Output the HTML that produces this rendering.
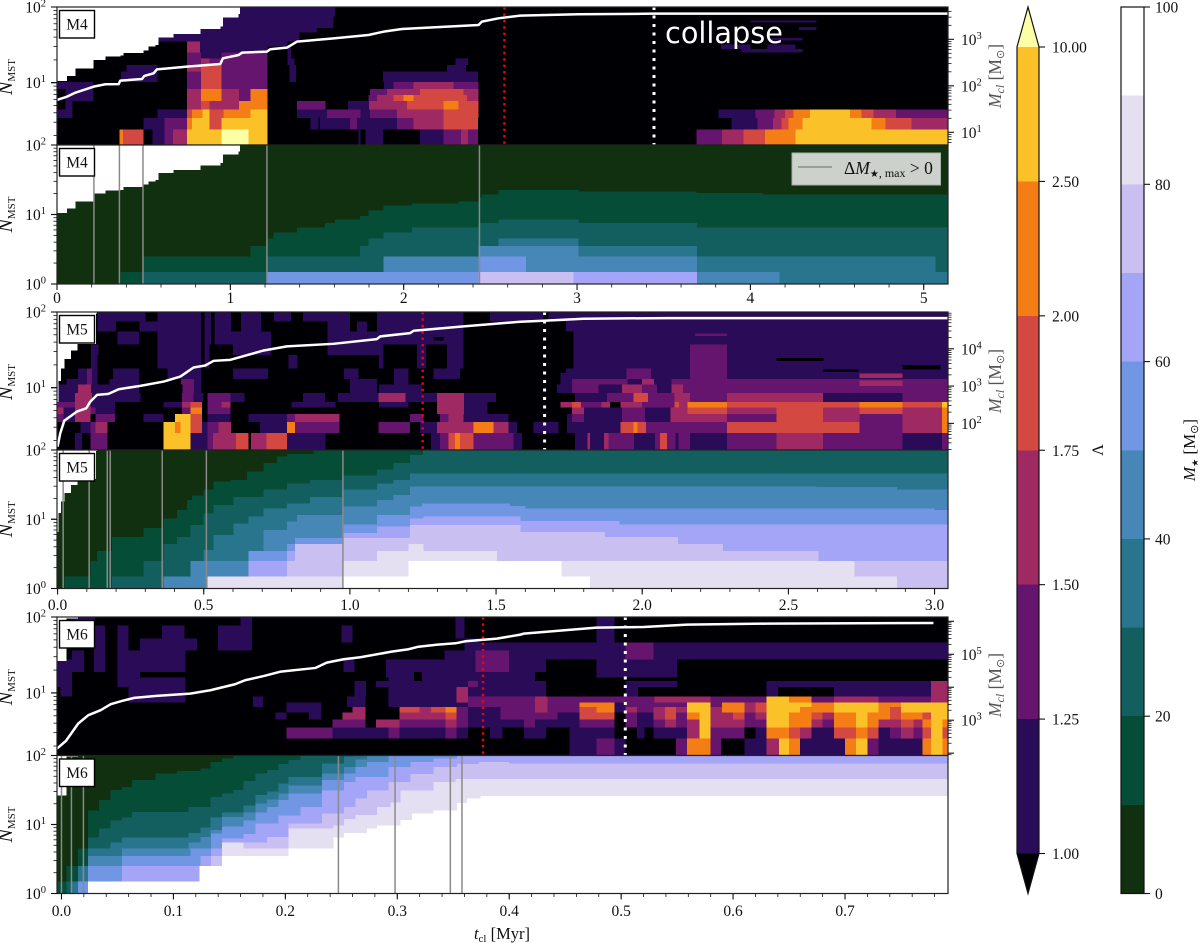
<!DOCTYPE html>
<html lang="en">
<head>
<meta charset="utf-8">
<title>Cluster evolution chart</title>
<style>
html,body{margin:0;padding:0;background:#fff;}
svg{display:block;}
text{font-family:"Liberation Serif",serif;fill:#111;}
</style>
</head>
<body>
<svg id="fig" xmlns="http://www.w3.org/2000/svg" width="1200" height="943" viewBox="0 0 1200 943"></svg>
<script>
/* ---------- shared colour levels and colourbar scales ---------- */
const lambdaColors = ['#000004','#2a0b57','#65156e','#9f2a63','#d44842','#f57d15','#fac228','#fcffa4'];
const lambdaTickLabels = ['1.00','1.25','1.50','1.75','2.00','2.50','10.00'];
const massColors = ['#10300f','#064d38','#135f5f','#2a758e','#4687b7','#7096e4','#a5a5f7','#c9bff0','#e5dff2','#ffffff'];
const massTickValues = [0,20,40,60,80,100];

/* ---------- tick values ---------- */
const xTicksM4 = [0,1,2,3,4,5];
const xTickLabelsM4 = ['0','1','2','3','4','5'];
const xTicksM5 = [0,0.5,1,1.5,2,2.5,3];
const xTickLabelsM5 = ['0.0','0.5','1.0','1.5','2.0','2.5','3.0'];
const xTicksM6 = [0,0.1,0.2,0.3,0.4,0.5,0.6,0.7];
const xTickLabelsM6 = ['0.0','0.1','0.2','0.3','0.4','0.5','0.6','0.7'];
const massAxisExpM4 = [1,2,3];
const massAxisExpM5 = [2,3,4];
const massAxisExpM6 = [3,5];

/* ---------- event times ---------- */
const redTimeM4 = 2.581, collapseTimeM4 = 3.444;
const redTimeM5 = 1.249, collapseTimeM5 = 1.666;
const redTimeM6 = 0.3766, collapseTimeM6 = 0.5037;
const starEventsM4 = [0.213,0.36,0.496,1.211,2.437];
const starEventsM5 = [0.019,0.108,0.17,0.18,0.358,0.509,0.976];
const starEventsM6 = [0,0.0089,0.0196,0.2474,0.298,0.3474,0.3578];

/* ---------- upper envelope of N_MST: [t, N] ---------- */
const envelopeM4 = [[0,10.5],[.058,12.3],[.106,15.4],[.211,19.9],[.279,22.2],[.365,22.7],[.384,24.8],[.5,26.8],[.529,29.9],[.567,31.6],[.586,39.5],[.673,44],[.827,51],[.942,55],[.957,72.6],[1.048,81],[1.057,100]];
const envelopeM5 = [[-.002,6.5],[.003,12.3],[.011,18],[.023,24],[.046,31],[.068,38],[.132,96],[.135,100]];
const envelopeM6 = [[-.004,26.5],[.0045,96],[.0146,100]];

/* ---------- cluster mass curves: [t, Mcl] ---------- */
const clusterMassM4 = [[0,49.6],[.058,58.5],[.106,71.3],[.211,96],[.279,108],[.356,109],[.365,129],[.49,140],[.504,163],[.557,186],[.577,226],[.75,258],[.942,295],[.957,390],[1.048,460],[1.067,516],[1.211,543],[1.23,610],[1.326,662],[1.384,891],[1.596,1050],[1.797,1240],[1.884,1460],[1.99,1670],[2.432,2030],[2.451,2400],[2.547,2830],[2.672,3230],[3.008,3450],[3.44,3560],[5.14,3560]];
const clusterMassM5 = [[0,23.7],[.009,54],[.023,118],[.066,207],[.098,254],[.112,384],[.135,580],[.174,617],[.209,824],[.283,1010],[.363,1320],[.42,1800],[.465,3150],[.505,3560],[.534,4760],[.591,5060],[.705,9020],[.784,11600],[.944,13600],[1.092,18200],[1.104,21500],[1.206,26400],[1.218,30500],[1.389,39800],[1.583,53200],[1.662,56600],[1.799,64000],[2.084,66700],[3.05,66700]];
const clusterMassM6 = [[-.004,138],[.004,236],[.015,793],[.024,1420],[.035,2010],[.044,3050],[.054,3850],[.065,4750],[.085,5450],[.115,6420],[.133,8100],[.155,12300],[.164,16300],[.181,22000],[.196,29800],[.227,38500],[.237,55900],[.252,70600],[.267,81100],[.295,120000],[.31,142000],[.318,167000],[.336,196000],[.352,215000],[.361,248000],[.389,298000],[.41,394000],[.413,423000],[.478,643000],[.52,673000],[.559,793000],[.63,849000],[.779,889000]];

/* ---------- Lambda rows: [Nlow, Nhigh, t, level, t, level, ..., tEnd] ---------- */
const lambdaRowsM4 = [
 [1.5,2.4,.36,5,.38,4,.50,0,.55,1,.62,2,.67,3,.75,6,.95,7,1.105,6,1.215,0,1.74,1,1.75,0,1.78,1,1.88,0,2.095,1,2.23,2,2.33,3,2.37,2,2.43,0,3.69,2,3.835,3,3.96,4,4.085,5,4.26,6,5.14],
 [2.4,3.4,.50,1,.62,2,.75,5,.78,6,.88,4,.95,6,1.215,0,1.461,1,1.509,0,1.518,1,1.691,2,1.73,1,1.96,2,2.057,3,2.23,4,2.43,0,3.89,1,4.04,2,4.13,3,4.18,4,4.22,5,4.30,6,4.70,5,4.78,4,4.93,3,5.14],
 [3.4,4.4,0,1,.09,0,.58,1,.75,4,.78,5,.84,6,.88,4,.96,5,1.115,6,1.215,0,1.384,1,1.557,2,1.75,1,1.807,2,1.96,3,2.23,4,2.431,0,3.815,1,4.03,2,4.14,3,4.20,4,4.25,5,4.345,6,4.575,5,4.64,4,4.71,3,4.84,2,5.14],
 [4.4,5.7,.05,1,.09,0,.75,3,.83,4,.88,3,1.05,5,1.215,0,1.384,2,1.55,0,1.68,1,1.80,3,2.018,4,2.23,5,2.316,4,2.431],
 [5.7,6.9,.05,1,.21,0,.75,3,.83,5,.95,3,1.05,2,1.115,5,1.215,0,1.797,2,1.845,3,1.941,4,1.999,5,2.057,4,2.365,3,2.431],
 [6.9,8.2,.05,1,.21,0,.75,3,.83,5,.95,3,1.05,2,1.115,5,1.215,0,1.807,2,1.903,3,2.095,4,2.345,3,2.431],
 [8.2,10.2,0,1,.21,0,.75,2,.83,4,.95,2,1.215,0,1.887,1,1.941,2,2.057,3,2.288,2,2.431],
 [10.2,14,.37,1,.58,0,.75,2,.83,4,.95,2,1.215,0,1.34,1,1.38,0,1.88,1,2.43],
 [14,17,.4,1,.58,0,.75,3,.83,4,.95,2,1.215,0,1.34,1,1.38,0,2.25,1,2.36],
 [17,21,.75,2,.83,3,.88,2,1.215,0,1.33,1,1.37,0,2.3,1,2.37],
 [21,25,.75,2,.83,1,.95,2,1.215,0,1.33,1,1.35],
 [25,30,.75,3,.826,1,1.215,0,1.33,1,1.35],
 [30,35,.75,3,.826,1,1.33],
 [35,46,.58,1,1.4],
 [46,53,.58,1,1.5],
 [53,75,.76,1,1.595],
 [75,100,.95,1,1.605],
 [25,28,3.95,1,4.3],
 [28,32,3.83,1,4.0,0,4.1,1,4.26],
 [36,39,4.12,1,4.3],
 [50,54,4.28,1,4.38],
 [62,66,4.0,1,4.38]
];
const lambdaRowsM5 = [
 [1.5,2.5,.06,1,.083,0,.112,2,.171,0,.363,6,.454,1,.513,2,.531,3,.611,4,.653,0,.661,3,.714,4,.784,1,.916,0,1.278,1,1.309,2,1.337,4,1.36,5,1.377,4,1.423,2,1.56,1,1.588,0,1.77,1,1.813,3,1.822,1,1.87,3,1.885,2,1.972,1,2.044,2,2.061,4,2.084,2,2.113,1,2.124,2,2.164,1,2.29,2,2.46,3,2.618,2,2.89,1,3.025,2,3.05],
 [2.5,3.5,.078,1,.112,2,.129,3,.171,0,.363,6,.402,5,.42,6,.454,4,.494,1,.513,2,.551,3,.593,0,.693,1,.784,5,.813,2,.965,0,1.098,2,1.206,0,1.24,1,1.298,3,1.423,5,1.491,3,1.543,1,1.571,0,1.628,1,1.714,0,1.742,1,1.925,4,1.97,5,1.984,4,2.013,2,2.29,4,2.743,2,2.89,3,3.025,5,3.05],
 [3.5,4.5,0,2,.02,1,.06,3,.112,0,.129,2,.196,0,.294,1,.363,0,.402,6,.454,4,.494,0,.513,1,.591,0,.653,1,.784,2,.813,3,.965,0,1.206,2,1.252,0,1.309,2,1.337,3,1.389,1,1.543,0,1.742,1,1.76,2,1.80,1,1.93,2,2.01,1,2.096,3,2.29,2,2.46,4,2.618,3,2.743,2,2.89,3,3.025,5,3.05],
 [4.5,5.5,0,3,.02,1,.06,3,.112,2,.129,1,.196,0,.425,2,.454,5,.494,0,.513,2,.591,0,1.298,3,1.39,1,1.47,0,1.76,3,1.8,1,1.93,2,2.01,1,2.096,3,2.155,4,2.29,3,2.46,4,2.618,3,2.743,4,2.89,3,3.025,5,3.05],
 [5.5,6.5,0,2,.06,3,.112,1,.196,0,.363,1,.425,3,.454,4,.494,0,.513,2,.56,3,.591,0,.8,1,.95,0,1.1,1,1.2,0,1.298,3,1.39,1,1.47,0,1.72,3,1.76,4,1.79,2,1.86,3,1.89,0,1.925,3,2.0,2,2.11,4,2.125,3,2.155,5,2.29,4,2.743,5,2.89,4,3.025,6,3.05],
 [6.5,8.5,0,1,.06,3,.118,1,.283,0,.425,2,.465,1,.50,0,.513,2,.591,1,.64,0,.84,1,.915,0,.96,1,1.098,3,1.19,1,1.298,3,1.39,1,1.5,0,1.77,1,1.88,2,1.97,4,2.02,2,2.11,3,2.164,2,2.29,3,2.618,1,2.89,2,3.05],
 [8.5,11,0,1,.07,3,.114,1,.279,0,.428,2,.467,1,.49,0,1.0,1,1.092,0,1.1,1,1.246,0,1.708,1,1.76,2,1.85,1,1.93,3,2.0,2,2.05,1,2.1,3,2.14,2,3.05],
 [11,13,.03,1,.1,2,.118,1,.137,0,.177,1,.279,0,.422,2,.467,1,.49,0,1.0,1,1.092,0,1.15,1,1.2,0,1.72,1,1.76,2,1.95,1,2.0,3,2.04,1,2.1,2,3.05],
 [13,15.6,.07,1,.1,2,.118,1,.137,0,.19,1,.279,0,.376,1,.49,0,.60,1,.72,0,.98,1,1.03,0,1.15,1,1.2,0,1.286,1,1.377,0,1.72,1,1.947,2,2.03,1,2.164,2,2.29,1,3.05],
 [15.6,18,.07,1,.1,2,.118,1,.137,0,.19,1,.279,0,.376,1,.49,0,.60,1,.72,0,.98,1,1.03,0,1.15,1,1.2,0,1.286,1,1.377,0,1.74,1,1.947,2,2.03,1,2.164,2,2.29,1,3.05],
 [18,27,.114,1,.137,0,.342,1,.52,0,.79,1,.82,0,1.1,1,1.115,0,1.23,1,1.26,0,1.332,1,1.389,0,1.765,1,2.164,2,2.29,1,3.05],
 [27,37,.114,1,.14,0,.342,1,.52,0,.6,1,.73,0,.924,1,1.115,0,1.23,1,1.26,0,1.332,1,1.389,0,1.765,1,2.164,2,2.29,1,3.05],
 [37,55,.205,1,.279,0,.342,1,.73,0,.924,1,1.389,0,1.765,1,3.05],
 [55,75,.137,1,.2,0,.28,1,.536,1,.593,0,.627,1,.696,0,.924,1,1.0,0,1.024,1,1.058,0,1.092,1,1.389,0,1.74,1,3.05],
 [75,100,.137,1,.3,0,.342,1,.593,0,.627,1,.696,0,.741,1,.798,0,.84,1,1.0,0,1.092,1,1.389,0,1.48,1,1.662,0,1.68,1,3.05],
 [18,100,.49,0,.502],
 [30,100,.525,0,.536],
 [42,47,1.286,0,1.32],
 [19,30,1.263,0,1.332],
 [48,52,2.18,2,2.29],
 [22.5,24.5,2.46,0,2.62],
 [16,17.5,2.62,0,2.74],
 [17.5,20,2.89,0,3.02],
 [13.5,15.5,2.743,3,2.89],
 [10.5,12.5,2.743,3,2.89]
];
const lambdaRowsM6 = [
 [1.5,2.5,.454,1,.478,2,.494,1,.504,0,.549,2,.559,5,.58,2,.589,0,.61,1,.63,3,.641,6,.65,5,.66,1,.7,5,.71,6,.72,2,.73,1,.769,5,.777,6,.787,5,.792],
 [2.5,3.5,.201,2,.242,1,.292,2,.302,1,.343,2,.353,1,.363,0,.383,1,.394,0,.413,1,.433,0,.454,1,.494,0,.514,1,.521,0,.529,1,.559,3,.57,6,.58,2,.61,0,.62,1,.63,5,.65,4,.66,3,.67,1,.69,4,.71,5,.72,4,.73,1,.74,2,.75,3,.761,2,.769,4,.777,6,.787,4,.792],
 [3.5,4.5,.242,2,.2715,0,.281,3,.302,2,.343,3,.353,2,.363,1,.413,2,.423,1,.463,2,.494,0,.504,2,.514,1,.529,2,.539,3,.549,2,.559,3,.57,6,.58,3,.61,2,.63,6,.65,5,.67,3,.68,2,.69,5,.71,6,.72,5,.73,3,.75,4,.761,3,.769,5,.777,6,.787,5,.792],
 [4.5,5.5,.191,1,.201,0,.221,1,.232,0,.251,3,.2715,0,.302,3,.343,4,.353,2,.363,1,.392,2,.443,1,.463,4,.494,0,.504,2,.514,1,.529,3,.539,4,.549,2,.559,5,.57,6,.58,3,.6,4,.61,2,.62,3,.63,6,.65,5,.67,4,.68,3,.69,5,.71,6,.72,5,.74,4,.75,5,.769,4,.777,6,.792],
 [5.5,6.5,.201,1,.232,0,.26,3,.2715,0,.302,4,.32,3,.33,4,.343,5,.353,2,.363,1,.392,2,.423,3,.434,2,.463,4,.478,5,.494,1,.504,3,.514,2,.529,3,.539,4,.549,3,.559,6,.58,3,.59,5,.61,3,.62,4,.63,6,.66,5,.69,6,.73,5,.74,4,.75,6,.792],
 [6.5,7.5,.171,1,.18,0,.201,1,.232,0,.255,1,.2715,0,.292,1,.363,2,.423,3,.434,2,.463,5,.494,1,.504,2,.559,6,.58,2,.59,5,.61,3,.62,4,.63,6,.67,5,.69,6,.73,5,.75,6,.792],
 [7.5,9,.06,1,.111,0,.171,1,.18,0,.255,1,.2715,0,.292,1,.353,3,.363,2,.423,3,.434,2,.53,3,.58,2,.63,6,.65,5,.67,2,.69,3,.73,2,.777,3,.792],
 [9,12,-.001,1,.0095,0,.06,1,.111,0,.262,1,.272,0,.292,1,.353,3,.363,1,.433,0,.504,1,.515,0,.63,1,.64,0,.69,1,.777,3,.792],
 [12,14.3,-.004,1,.0095,0,.05,1,.111,0,.262,1,.272,0,.281,1,.363,2,.372,1,.433,0,.504,1,.55,0,.63,1,.777,3,.792],
 [14.3,16,-.004,1,.0095,0,.05,1,.111,0,.292,1,.315,0,.322,1,.423],
 [16,19,-.004,1,.0095,0,.05,1,.07,0,.29,1,.315,0,.322,1,.423,0,.478,1,.55],
 [19,27.6,-.004,1,.02,0,.029,1,.039,0,.05,1,.111,0,.252,1,.262,0,.29,1,.37,2,.4,1,.433,0,.478,1,.55],
 [27.6,36,.0095,1,.02,0,.029,1,.039,0,.05,1,.111,0,.342,1,.37,2,.4,1,.504,2,.529,1,.792],
 [36,46,.029,1,.039,0,.05,1,.06,0,.07,1,.121,0,.14,1,.17,0,.36,1,.504,2,.529,1,.792],
 [46,52,.029,1,.039,0,.05,1,.06,0,.07,1,.121,0,.14,1,.17,0,.25,1,.26,0,.36,1,.372,0,.478,1,.494],
 [52,77,.029,1,.039,0,.05,1,.06,0,.09,1,.11,0,.14,1,.17,0,.25,1,.26,0,.352,1,.36,0,.478,1,.494],
 [77,100,.008,1,.03,0,.16,1,.17,0,.352,1,.36,0,.478,1,.494]
];

/* ---------- stellar-mass boundaries: [t, N], index = mass bin ---------- */
const m4Mass10 = [[.365,1.5],[.5,2.5],[1.115,3.5],[1.211,4.5],[1.25,5.5],[1.384,6.5],[1.547,7.5],[1.605,8.5],[1.749,9.5],[1.797,11.5],[1.884,13.5],[2.047,14.5],[2.316,15.5],[2.432,17.5],[2.451,19.5],[2.547,22.5],[3.01,21.5],[3.69,20.5],[4.07,19.5]];
const m4Mass20 = [[.5,1.5],[1.211,2.5],[1.749,3.5],[1.797,4.5],[1.884,5.5],[2.047,6.5],[2.432,7.5],[2.547,8.5],[3.008,7.5],[3.691,6.5]];
const m4Mass30 = [[1.211,1.5],[1.884,2.5],[2.432,3.5],[2.547,4.5],[3.008,3.5],[3.691,2.5],[5.069,1.5]];
const m4Mass40 = [[1.211,1.5],[1.884,2.5],[2.432,3.5],[3.008,2.5],[3.691,1.5],[4.167,1]];
const m4Mass50 = [[1.211,1.5],[2.432,2.5],[2.706,1.5],[3.691,1]];
const m4Mass60 = [[2.432,1.5],[3.691,1]];
const m4Mass70 = [[2.432,1.5],[2.979,1]];

const m5Mass10 = [[.023,1.5],[.112,2.5],[.135,3.5],[.186,5.5],[.294,7.5],[.363,10.3],[.408,13.7],[.442,19],[.46,22],[.499,26.7],[.534,35],[.591,37],[.648,49],[.705,65],[.75,80],[.784,87],[.876,100]];
const m5Mass20 = [[.186,1.5],[.294,2.5],[.363,4.4],[.408,5.5],[.454,8.3],[.499,12.2],[.534,16],[.602,21],[.705,27],[.784,33],[.864,37],[.978,43],[1.092,52],[1.149,65],[1.206,85],[1.25,100]];
const m5Mass30 = [[.363,1.5],[.454,2.5],[.499,3.6],[.534,5.9],[.602,8.7],[.653,10.9],[.705,14.4],[.784,17],[.864,21],[.978,26.7],[1.092,33],[1.149,37],[1.206,46]];
const m5Mass40 = [[.363,1.5],[.454,2.5],[.653,3.5],[.705,7],[.784,9.3],[.819,11.5],[.978,15.2],[1.092,19],[1.149,22.5],[1.206,29.7],[2.597,29],[2.871,27]];
const m5Mass50 = [[.513,1.5],[.653,3.5],[.784,4.4],[.813,5.4],[.978,8.4],[1.092,11.5],[1.206,15.2],[1.246,17],[1.548,15.5],[1.6,14.4],[3.0,13.6]];
const m5Mass60 = [[.513,1.5],[.653,2.5],[.784,3.5],[.813,4.4],[.978,6.3],[1.092,7.8],[1.206,10.3],[1.252,11],[1.583,9.5],[1.922,8.4]];
const m5Mass70 = [[.513,1.5],[.784,2.5],[.813,4.4],[.978,5.4],[1.206,8.3],[1.583,6.5],[1.873,5.5],[2.122,4.4],[2.276,3.5],[2.603,2.5]];
const m5Mass80 = [[.513,1.5],[.978,2.5],[1.092,3.5],[1.2,4.4],[1.252,3.5],[1.503,2.5],[2.726,1.5],[2.871,1]];
const m5Mass90 = [[.978,1.5],[1.2,2.5],[1.723,1.5],[1.822,1]];

const m6Mass10 = [[-.004,1.5],[.0045,2.5],[.0146,4.5],[.0235,16],[.0333,22.5],[.0438,31.5],[.0542,35],[.0631,44],[.084,55],[.1033,60],[.1241,65],[.1331,81],[.1435,90],[.1539,100]];
const m6Mass20 = [[.0045,1.5],[.0146,2.5],[.0235,6.5],[.0333,8.8],[.0438,11.5],[.0542,12.6],[.0631,15.3],[.1137,18],[.1331,25],[.1435,28],[.1539,31.5],[.1628,43],[.1733,55],[.1837,62],[.1941,75],[.203,86],[.2135,100]];
const m6Mass30 = [[.0095,1.5],[.0146,2.5],[.0235,4.5],[.0438,5.5],[.0542,6.5],[.1137,7.5],[.1241,9],[.1331,12.6],[.1435,15],[.1628,19],[.1733,26.7],[.1837,30],[.1941,39],[.203,49],[.2328,76],[.2522,96],[.2611,100]];
const m6Mass40 = [[.0146,1.5],[.0235,3.5],[.0542,4.5],[.1137,5.5],[.1241,6.6],[.1331,8.3],[.1435,12.9],[.1628,15],[.1733,20],[.1837,23],[.1941,28],[.203,37],[.2328,55],[.2522,68],[.2626,88],[.273,100]];
const m6Mass50 = [[.0146,1.5],[.0235,2.5],[.0542,3.5],[.1152,4.5],[.1337,7.4],[.1435,9.3],[.1628,11.5],[.1733,15],[.1837,18],[.1941,22.5],[.203,28],[.2328,44],[.2522,55],[.2626,68],[.273,81],[.2923,100]];
const m6Mass60 = [[.0235,1.5],[.0542,2.5],[.1241,3.5],[.1337,4.5],[.1435,6.3],[.1628,7.3],[.1733,10.3],[.1941,13.6],[.2135,18],[.2328,31],[.2522,41],[.2626,49],[.2923,68],[.3117,81],[.3325,90],[.3534,100]];
const m6Mass70 = [[.0235,1.5],[.1235,2.5],[.1337,3.5],[.1435,4.5],[.1628,5.5],[.1837,6.6],[.203,10.3],[.2328,14.4],[.2522,18],[.2626,24],[.273,31],[.2923,41],[.3117,54],[.3325,68],[.3534,75],[.3727,80],[.4,76]];
const m6Mass80 = [[.0235,1.5],[.1235,2.5],[.1435,5.5],[.1628,4.5],[.203,8.7],[.2432,9.7],[.2522,12],[.2626,13.7],[.2819,18],[.2938,21],[.3028,31],[.3325,41],[.3519,46]];
const m6Mass90 = [[.0235,1.5],[.1235,2.5],[.1435,3.5],[.203,4.5],[.2432,6.5],[.2522,7.5],[.273,8.7],[.2819,9.7],[.3028,11.6],[.3132,14.5],[.3325,16],[.3534,20.6],[.3623,23.8],[.3742,26]];

/* ---------- drawing ---------- */
const svg = document.getElementById('fig');
const NS = 'http://www.w3.org/2000/svg';
const LEFT = 57, RIGHT = 948;
let clipId = 0;

function mk(tag, attrs, parent){
  const el = document.createElementNS(NS, tag);
  for (const k in attrs) el.setAttribute(k, attrs[k]);
  (parent || svg).appendChild(el);
  return el;
}
function logScale(dMin, dMax, pBottom, pTop){
  const a = Math.log10(dMin), b = Math.log10(dMax);
  return v => pBottom + (Math.log10(v) - a) / (b - a) * (pTop - pBottom);
}
function linScale(dMin, dMax, p0, p1){
  return v => p0 + (v - dMin) / (dMax - dMin) * (p1 - p0);
}
function powerLabel(x, y, exp, anchor, name){
  const t = mk('text', {x:x, y:y, 'font-size':15.5, 'text-anchor':anchor});
  
  
  t.textContent = '10';
  const s = mk('tspan', {dy:-6, 'font-size':10.5}, t);
  s.textContent = exp;
  return t;
}
function makeClip(top, bottom){
  clipId += 1;
  const c = mk('clipPath', {id:'clip' + clipId});
  mk('rect', {x:LEFT, y:top, width:RIGHT - LEFT, height:bottom - top}, c);
  return 'url(#clip' + clipId + ')';
}
function leftAxis(top, bottom, yS, exps, nMin, panel){
  for (let k = 0; k <= 1; k++){
    for (let m = 1; m <= 10; m++){
      const v = m * Math.pow(10, k);
      if (v < nMin || v > 100) continue;
      const y = yS(v);
      const major = m === 1 || m === 10;
      const tick = mk('line', {x1:LEFT, x2:LEFT - (major ? 6 : 3.5), y1:y, y2:y, stroke:'#111', 'stroke-width':major ? 1.1 : 0.8});
      
      
    }
  }
  exps.forEach(e => {
    powerLabel(46, yS(Math.pow(10, e)) + 5.5, e, 'end', panel + '-y-tick-label');
  });
  const cy = (top + bottom) / 2 + (nMin > 1 ? 1 : 0);
  const lab = mk('text', {transform:'translate(12,' + cy + ') rotate(-90)', 'text-anchor':'middle', 'font-size':20});
  
  
  const a = mk('tspan', {'font-style':'italic'}, lab);
  a.textContent = 'N';
  const b = mk('tspan', {dy:3, 'font-size':11}, lab);
  b.textContent = 'MST';
}
function xAxis(bottom, xS, ticks, labels, minorStep, tMax, panel, labelY){
  const n = Math.round(tMax / minorStep);
  for (let i = 0; i <= n; i++){
    const t = i * minorStep;
    const x = xS(t);
    if (x > RIGHT) continue;
    const tick = mk('line', {x1:x, x2:x, y1:bottom, y2:bottom + 3.5, stroke:'#111', 'stroke-width':0.8});
    
    
  }
  ticks.forEach((t, i) => {
    const x = xS(t);
    const tick = mk('line', {x1:x, x2:x, y1:bottom, y2:bottom + 6, stroke:'#111', 'stroke-width':1.1});
    
    
    const lab = mk('text', {x:x, y:labelY, 'font-size':15.5, 'text-anchor':'middle'});
    
    
    lab.textContent = labels[i];
  });
}
function panelTag(top, text, panel){
  const box = mk('rect', {x:59.5, y:top + 3.5, width:35, height:27.5, fill:'#fff', stroke:'#000', 'stroke-width':1.4});
  
  
  const t = mk('text', {x:77, y:top + 22.5, 'font-size':15.5, 'text-anchor':'middle'});
  
  
  t.textContent = text;
}
function frame(top, bottom, panel){
  const f = mk('rect', {x:LEFT, y:top, width:RIGHT - LEFT, height:bottom - top, fill:'none', stroke:'#222', 'stroke-width':1.2});
  
  
}
function envelopeMask(group, env, xS, yS, top, panel){
  let d = 'M' + xS(env[0][0]) + ' ' + top;
  env.forEach((p, i) => {
    const next = i + 1 < env.length ? env[i + 1][0] : p[0];
    d += ' L' + xS(p[0]) + ' ' + yS(p[1]) + ' L' + xS(next) + ' ' + yS(p[1]);
  });
  d += ' L' + xS(env[env.length - 1][0]) + ' ' + top + ' Z';
  const el = mk('path', {d:d, fill:'#fff', 'shape-rendering':'crispEdges'}, group);
  
  
}
function drawLambdaPanel(cfg){
  const {top, bottom, tMin, tMax, rows, env, curve, mMin, mMax, exps, redT, whiteT, name, tag} = cfg;
  const xS = linScale(tMin, tMax, LEFT, RIGHT);
  const yS = logScale(1.5, 100, bottom, top);
  const mS = logScale(mMin, mMax, bottom, top);
  const g = mk('g', {'clip-path':makeClip(top, bottom)});
  
  
  const bg = mk('rect', {x:LEFT, y:top, width:RIGHT - LEFT, height:bottom - top, fill:lambdaColors[0]}, g);
  
  
  rows.forEach(r => {
    for (let i = 2; i + 2 < r.length; i += 2){
      const t0 = r[i], lvl = r[i + 1], t1 = r[i + 2];
      const cell = mk('rect', {x:xS(t0), y:yS(r[1]), width:Math.max(0, xS(t1) - xS(t0)), height:yS(r[0]) - yS(r[1]), fill:lambdaColors[lvl], 'shape-rendering':'crispEdges'}, g);
      
      
    }
  });
  envelopeMask(g, env, xS, yS, top, name);
  const red = mk('line', {x1:xS(redT), x2:xS(redT), y1:top, y2:bottom, stroke:'#f4000b', 'stroke-width':2.4, 'stroke-dasharray':'2.4 4'}, g);
  
  
  const white = mk('line', {x1:xS(whiteT), x2:xS(whiteT), y1:top, y2:bottom, stroke:'#fff', 'stroke-width':3, 'stroke-dasharray':'3 5.5'}, g);
  
  
  const line = mk('polyline', {points:curve.map(p => xS(p[0]) + ',' + mS(p[1])).join(' '), fill:'none', stroke:'#fff', 'stroke-width':2.5, 'stroke-linejoin':'round'}, g);
  
  
  frame(top, bottom, name);
  leftAxis(top, bottom, yS, [2, 1], 1.5, name);
  const loE = Math.ceil(Math.log10(mMin)), hiE = Math.floor(Math.log10(mMax));
  for (let e = loE - 1; e <= hiE; e++){
    for (let m = 1; m < 10; m++){
      const v = m * Math.pow(10, e);
      if (v < mMin || v > mMax) continue;
      const y = mS(v);
      const tick = mk('line', {x1:RIGHT, x2:RIGHT + (m === 1 ? 6 : 3.5), y1:y, y2:y, stroke:'#111', 'stroke-width':m === 1 ? 1.1 : 0.8});
      
      
    }
  }
  exps.forEach(e => {
    powerLabel(961, mS(Math.pow(10, e)) + 5.5, e, 'start', name + '-mass-axis-tick-label');
  });
  const lab = mk('text', {transform:'translate(1001,' + cfg.labelY + ') rotate(-90)', 'text-anchor':'middle', 'font-size':17.5, style:'fill:#555'});
  
  
  const a = mk('tspan', {'font-style':'italic', style:'fill:#555'}, lab);
  a.textContent = 'M';
  const b = mk('tspan', {dy:3, 'font-size':12, 'font-style':'italic', style:'fill:#555'}, lab);
  b.textContent = 'cl';
  const c = mk('tspan', {dy:-3, style:'fill:#555'}, lab);
  c.textContent = ' [M';
  const d = mk('tspan', {dy:3, 'font-size':11, style:'fill:#555'}, lab);
  d.textContent = '\u2299';
  const e2 = mk('tspan', {dy:-3, style:'fill:#555'}, lab);
  e2.textContent = ']';
  panelTag(top, tag, name);
}
function drawMassPanel(cfg){
  const {top, bottom, tMin, tMax, bounds, env, events, name, tag} = cfg;
  const xS = linScale(tMin, tMax, LEFT, RIGHT);
  const yS = logScale(1, 100, bottom, top);
  const g = mk('g', {'clip-path':makeClip(top, bottom)});
  
  
  const bg = mk('rect', {x:LEFT, y:top, width:RIGHT - LEFT, height:bottom - top, fill:massColors[0]}, g);
  
  
  bounds.forEach((b, i) => {
    let d = 'M' + xS(b[0][0]) + ' ' + bottom;
    b.forEach((p, j) => {
      const next = j + 1 < b.length ? b[j + 1][0] : tMax;
      d += ' L' + xS(p[0]) + ' ' + yS(p[1]) + ' L' + xS(next) + ' ' + yS(p[1]);
    });
    d += ' L' + xS(tMax) + ' ' + bottom + ' Z';
    const area = mk('path', {d:d, fill:massColors[i + 1], 'shape-rendering':'crispEdges'}, g);
    
    
  });
  envelopeMask(g, env, xS, yS, top, name);
  events.forEach(t => {
    const l = mk('line', {x1:xS(t), x2:xS(t), y1:top, y2:bottom, stroke:'#8a8a8a', 'stroke-width':1.5}, g);
    
    
  });
  frame(top, bottom, name);
  leftAxis(top, bottom, yS, [2, 1, 0], 1, name);
  panelTag(top, tag, name);
}

drawLambdaPanel({top:7, bottom:145, tMin:0, tMax:5.14, rows:lambdaRowsM4, env:envelopeM4, curve:clusterMassM4, mMin:5.33, mMax:4955, exps:massAxisExpM4, redT:redTimeM4, whiteT:collapseTimeM4, name:'m4-lambda', tag:'M4', labelY:76});
drawMassPanel({top:145, bottom:284, tMin:0, tMax:5.14, bounds:[m4Mass10,m4Mass20,m4Mass30,m4Mass40,m4Mass50,m4Mass60,m4Mass70], env:envelopeM4, events:starEventsM4, name:'m4-mass', tag:'M4'});
xAxis(284, linScale(0,5.14,LEFT,RIGHT), xTicksM4, xTickLabelsM4, 0.2, 5.14, 'm4', 303);

drawLambdaPanel({top:312, bottom:450, tMin:-.002, tMax:3.046, rows:lambdaRowsM5, env:envelopeM5, curve:clusterMassM5, mMin:19.3, mMax:97000, exps:massAxisExpM5, redT:redTimeM5, whiteT:collapseTimeM5, name:'m5-lambda', tag:'M5', labelY:381});
drawMassPanel({top:450, bottom:588.5, tMin:-.002, tMax:3.046, bounds:[m5Mass10,m5Mass20,m5Mass30,m5Mass40,m5Mass50,m5Mass60,m5Mass70,m5Mass80,m5Mass90], env:envelopeM5, events:starEventsM5, name:'m5-mass', tag:'M5'});
xAxis(588.5, linScale(-.002,3.046,LEFT,RIGHT), xTicksM5, xTickLabelsM5, 0.1, 3.046, 'm5', 610);

drawLambdaPanel({top:617, bottom:755.5, tMin:-.004, tMax:.792, rows:lambdaRowsM6, env:envelopeM6, curve:clusterMassM6, mMin:85, mMax:1350000, exps:massAxisExpM6, redT:redTimeM6, whiteT:collapseTimeM6, name:'m6-lambda', tag:'M6', labelY:685});
drawMassPanel({top:755.5, bottom:893.5, tMin:-.004, tMax:.792, bounds:[m6Mass10,m6Mass20,m6Mass30,m6Mass40,m6Mass50,m6Mass60,m6Mass70,m6Mass80,m6Mass90], env:envelopeM6, events:starEventsM6, name:'m6-mass', tag:'M6'});
xAxis(893.5, linScale(-.004,.792,LEFT,RIGHT), xTicksM6, xTickLabelsM6, 0.02, .792, 'm6', 916);

/* x axis title */
const xTitle = mk('text', {x:502, y:939, 'font-size':16.5, 'text-anchor':'middle'});


const xt1 = mk('tspan', {'font-style':'italic'}, xTitle);
xt1.textContent = 't';
const xt2 = mk('tspan', {dy:3, 'font-size':11}, xTitle);
xt2.textContent = 'cl';
const xt3 = mk('tspan', {dy:-3}, xTitle);
xt3.textContent = ' [Myr]';

/* collapse annotation */
const collapseLabel = mk('text', {x:665, y:43, 'font-size':29, textLength:118, lengthAdjust:'spacingAndGlyphs', style:'fill:#fff;font-family:"DejaVu Sans",sans-serif'});


collapseLabel.textContent = 'collapse';

/* legend */
const legendBox = mk('rect', {x:792, y:153, width:148.5, height:32, fill:'#ccd2cb', stroke:'#a9b1ab', 'stroke-width':1});


const legendLine = mk('line', {x1:798, x2:832, y1:167, y2:167, stroke:'#8a8a8a', 'stroke-width':1.5});


const legendText = mk('text', {x:844, y:174, 'font-size':17.5});


const lt1 = mk('tspan', {}, legendText);
lt1.textContent = '\u0394';
const lt2 = mk('tspan', {'font-style':'italic'}, legendText);
lt2.textContent = 'M';
const lt3 = mk('tspan', {dy:3, 'font-size':10, style:'font-family:"DejaVu Sans",sans-serif'}, legendText);
lt3.textContent = '\u2605';
const lt4 = mk('tspan', {'font-size':12}, legendText);
lt4.textContent = ', max';
const lt5 = mk('tspan', {dy:-3}, legendText);
lt5.textContent = ' > 0';

/* lambda colourbar */
(function(){
  const x0 = 1017, x1 = 1039, yTop = 47, yBot = 853.5, tipTop = 7, tipBot = 893.5;
  const n = lambdaTickLabels.length - 1;
  const pos = linScale(0, n, yBot, yTop);
  for (let i = 0; i < n; i++){
    const seg = mk('rect', {x:x0, y:pos(i + 1), width:x1 - x0, height:pos(i) - pos(i + 1), fill:lambdaColors[i + 1], 'shape-rendering':'crispEdges'});
    
    
  }
  const up = mk('polygon', {points:x0 + ',' + yTop + ' ' + (x0 + x1) / 2 + ',' + tipTop + ' ' + x1 + ',' + yTop, fill:lambdaColors[7]});
  
  
  const down = mk('polygon', {points:x0 + ',' + yBot + ' ' + (x0 + x1) / 2 + ',' + tipBot + ' ' + x1 + ',' + yBot, fill:lambdaColors[0]});
  
  
  const outline = mk('polygon', {points:[x0 + ',' + yTop, (x0 + x1) / 2 + ',' + tipTop, x1 + ',' + yTop, x1 + ',' + yBot, (x0 + x1) / 2 + ',' + tipBot, x0 + ',' + yBot].join(' '), fill:'none', stroke:'#111', 'stroke-width':1.2});
  
  
  lambdaTickLabels.forEach((t, i) => {
    const y = pos(i);
    const tick = mk('line', {x1:x1, x2:x1 + 6, y1:y, y2:y, stroke:'#111', 'stroke-width':1.1});
    
    
    const lab = mk('text', {x:1052, y:y + 5.5, 'font-size':15.5});
    
    
    lab.textContent = t;
  });
  const title = mk('text', {transform:'translate(1103,450) rotate(-90)', 'text-anchor':'middle', 'font-size':16});
  
  
  title.textContent = '\u039B';
})();

/* mass colourbar */
(function(){
  const x0 = 1121, x1 = 1144, yTop = 7, yBot = 893.5;
  const pos = linScale(0, 100, yBot, yTop);
  massColors.forEach((c, i) => {
    const seg = mk('rect', {x:x0, y:pos((i + 1) * 10), width:x1 - x0, height:pos(i * 10) - pos((i + 1) * 10), fill:c, 'shape-rendering':'crispEdges'});
    
    
  });
  const outline = mk('rect', {x:x0, y:yTop, width:x1 - x0, height:yBot - yTop, fill:'none', stroke:'#111', 'stroke-width':1.2});
  
  
  massTickValues.forEach(v => {
    const y = pos(v);
    const tick = mk('line', {x1:x1, x2:x1 + 6, y1:y, y2:y, stroke:'#111', 'stroke-width':1.1});
    
    
    const lab = mk('text', {x:1155, y:y + 5.5, 'font-size':15.5});
    
    
    lab.textContent = v;
  });
  const title = mk('text', {transform:'translate(1195,450) rotate(-90)', 'text-anchor':'middle', 'font-size':17});
  
  
  const a = mk('tspan', {'font-style':'italic'}, title);
  a.textContent = 'M';
  const b = mk('tspan', {dy:3, 'font-size':9, style:'font-family:"DejaVu Sans",sans-serif'}, title);
  b.textContent = '\u2605';
  const c = mk('tspan', {dy:-3}, title);
  c.textContent = ' [M';
  const d = mk('tspan', {dy:3, 'font-size':11}, title);
  d.textContent = '\u2299';
  const e = mk('tspan', {dy:-3}, title);
  e.textContent = ']';
})();
</script>
</body>
</html>
